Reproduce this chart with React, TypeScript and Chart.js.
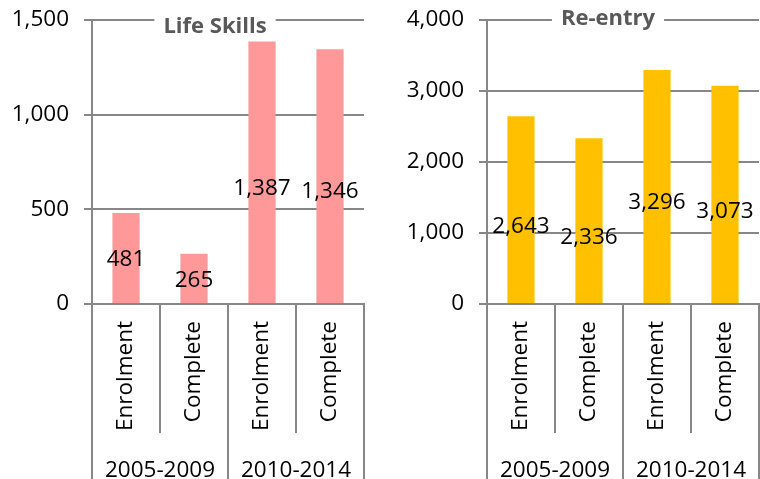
import React, { useEffect, useRef } from "react";
import { Chart, registerables } from "chart.js";
Chart.register(...registerables);

const categories = ["Enrolment", "Complete", "Enrolment", "Complete"];
const groups = ["2005-2009", "2010-2014"];
const lifeSkills = [481, 265, 1387, 1346];
const reEntry = [2643, 2336, 3296, 3073];
// value (in data units) at which each data label is centred, as placed in the original
const lifeSkillsLabelAt = [237, 126, 611, 595];
const reEntryLabelAt = [1092, 930, 1423, 1303];
const lifeSkillsTicks = { max: 1500, step: 500 };
const reEntryTicks = { max: 4000, step: 1000 };

const GRID = "#878787";
const FONT = "'Open Sans', sans-serif";
const FS = 22.5;
const W = 380;
const H = 479;

const fmt = (v: number) => v.toLocaleString("en-US");

const overlayPlugin = {
  id: "overlay",
  afterDraw(chart: any, _args: any, opts: any) {
    const ctx = chart.ctx;
    const x = chart.scales.x;
    const y = chart.scales.y;
    const n = categories.length;
    const w = (x.right - x.left) / n;
    ctx.save();
    ctx.strokeStyle = GRID;
    ctx.lineWidth = 2;
    for (let i = 0; i <= n; i++) {
      const px = Math.round(x.left + i * w);
      const yEnd = i % 2 === 0 ? chart.height : x.top + 129;
      ctx.beginPath();
      ctx.moveTo(px, x.top);
      ctx.lineTo(px, yEnd);
      ctx.stroke();
    }
    ctx.fillStyle = "#000";
    ctx.font = `${FS}px ${FONT}`;
    ctx.textAlign = "center";
    ctx.textBaseline = "alphabetic";
    groups.forEach((g, gi) => {
      ctx.fillText(g, x.left + (gi * 2 + 1) * w, 477);
    });
    const meta = chart.getDatasetMeta(0);
    ctx.textBaseline = "middle";
    opts.values.forEach((v: number, i: number) => {
      const bar = meta.data[i];
      ctx.fillText(fmt(v), bar.x, y.getPixelForValue(opts.labelAt[i]));
    });
    // title sitting on the top gridline
    ctx.font = `bold 22px ${FONT}`;
    const cx = (chart.chartArea.left + chart.chartArea.right) / 2 + opts.titleShift;
    const tw = ctx.measureText(opts.title).width;
    ctx.fillStyle = "#fff";
    ctx.fillRect(cx - tw / 2 - 9, chart.chartArea.top - 3, tw + 18, 6);
    ctx.fillStyle = "#595959";
    ctx.textBaseline = "alphabetic";
    ctx.fillText(opts.title, cx, opts.titleBaseline);
    ctx.restore();
  },
};

type Cfg = {
  title: string;
  values: number[];
  labelAt: number[];
  color: string;
  max: number;
  step: number;
  yWidth: number;
  padRight: number;
  titleShift: number;
  titleBaseline: number;
};

function BarPanel({ cfg }: { cfg: Cfg }) {
  const ref = useRef<HTMLCanvasElement>(null);
  useEffect(() => {
    const chart = new Chart(ref.current!, {
      type: "bar",
      data: {
        labels: categories,
        datasets: [
          {
            data: cfg.values,
            backgroundColor: cfg.color,
            barPercentage: 0.5,
            categoryPercentage: 0.8,
          },
        ],
      },
      options: {
        responsive: false,
        animation: false,
        devicePixelRatio: 1,
        layout: { padding: { top: 20, right: cfg.padRight, bottom: 0, left: 0 } },
        plugins: {
          legend: { display: false },
          tooltip: { enabled: false },
          overlay: {
            values: cfg.values,
            labelAt: cfg.labelAt,
            title: cfg.title,
            titleShift: cfg.titleShift,
            titleBaseline: cfg.titleBaseline,
          },
        } as any,
        scales: {
          x: {
            grid: { display: false, drawTicks: false },
            border: { display: true, color: GRID, width: 2 },
            ticks: {
              minRotation: 90,
              maxRotation: 90,
              autoSkip: false,
              padding: 17,
              color: "#000",
              font: { family: FONT, size: FS },
            },
            afterFit: (s: any) => {
              s.height = H - 304;
              s.paddingLeft = 0;
              s.paddingRight = 0;
            },
          },
          y: {
            min: 0,
            max: cfg.max,
            grid: { color: GRID, lineWidth: 2, tickLength: 8 },
            border: { display: true, color: GRID, width: 2 },
            ticks: {
              stepSize: cfg.step,
              padding: 15,
              color: "#000",
              font: { family: FONT, size: FS },
              callback: (v: any) => fmt(Number(v)),
            },
            afterFit: (s: any) => {
              s.width = cfg.yWidth;
              s.paddingTop = 0;
              s.paddingBottom = 0;
            },
          },
        },
      },
      plugins: [overlayPlugin],
    });
    return () => chart.destroy();
  }, [cfg]);
  return <canvas ref={ref} width={W} height={H} style={{ width: W, height: H, display: "block" }} />;
}

const leftCfg: Cfg = {
  title: "Life Skills",
  values: lifeSkills,
  labelAt: lifeSkillsLabelAt,
  color: "#FF9999",
  max: lifeSkillsTicks.max,
  step: lifeSkillsTicks.step,
  yWidth: 92,
  padRight: 16,
  titleShift: -13,
  titleBaseline: 33,
};
const rightCfg: Cfg = {
  title: "Re-entry",
  values: reEntry,
  labelAt: reEntryLabelAt,
  color: "#FFC000",
  max: reEntryTicks.max,
  step: reEntryTicks.step,
  yWidth: 107,
  padRight: 1,
  titleShift: -15,
  titleBaseline: 25,
};

export default function App() {
  return (
    <div style={{ position: "fixed", left: 0, top: 0, width: 760, height: 479, background: "#fff" }}>
      <div style={{ position: "absolute", left: 0, top: 0 }}>
        <BarPanel cfg={leftCfg} />
      </div>
      <div style={{ position: "absolute", left: 380, top: 0 }}>
        <BarPanel cfg={rightCfg} />
      </div>
    </div>
  );
}
